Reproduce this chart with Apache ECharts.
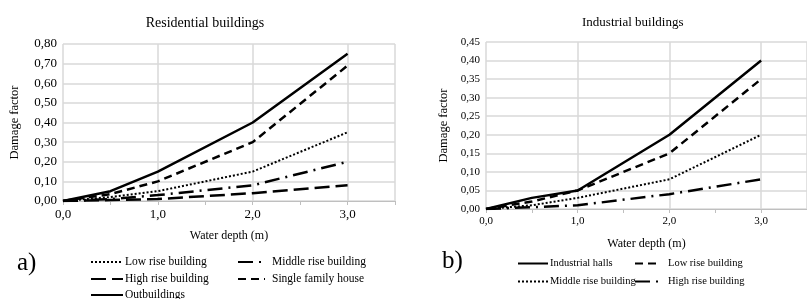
<!DOCTYPE html>
<html>
<head>
<meta charset="utf-8">
<script src="https://cdn.jsdelivr.net/npm/echarts@6/dist/echarts.min.js"></script>
<style>
body{margin:0;background:#fff;}
#res{position:absolute;left:0;top:0;width:410px;height:299px;}
#ind{position:absolute;left:410px;top:0;width:397px;height:299px;}
</style>
</head>
<body>
<div id="res"></div>
<div id="ind"></div>
<script>
var depth = [0, 0.5, 1, 2, 3];
// residential
var resLow = [0, 0.02, 0.05, 0.15, 0.35];
var resMiddle = [0, 0.01, 0.03, 0.08, 0.20];
var resHigh = [0, 0.005, 0.01, 0.04, 0.08];
var resSingle = [0, 0.035, 0.10, 0.30, 0.69];
var resOut = [0, 0.05, 0.15, 0.40, 0.75];
// industrial
var indHalls = [0, 0.03, 0.05, 0.20, 0.40];
var indLow = [0, 0.02, 0.05, 0.15, 0.35];
var indMiddle = [0, 0.01, 0.03, 0.08, 0.20];
var indHigh = [0, 0.005, 0.01, 0.04, 0.08];

var FONT = '"Liberation Serif", "DejaVu Serif", serif';
var styles = {
    solid: {type:'solid', width:2.5},
    dashed: {type:[8,5], width:2.5},
    dotted: {type:[2,2], width:2},
    longdash: {type:[15,6], width:2.5},
    dashdot: {type:[15,6,2,6], width:2.5}
};

function pairs(ys){
    var out=[];
    for(var i=0;i<depth.length;i++){ out.push([depth[i], ys[i]]); }
    return out;
}
function mkSeries(name, ys, st){
    return {name:name, type:'line', data:pairs(ys), symbol:'none', silent:true,
        lineStyle:{color:'#000', width:st.width, type:st.type}, itemStyle:{color:'#000'}};
}
function mkLegend(name, left, top, w, size, gap){
    return {data:[name], left:left, top:top, itemWidth:w, itemHeight:10, itemGap:0,
        padding:0, itemStyle:{opacity:0}, selectedMode:false,
        textStyle:{fontFamily:FONT, fontSize:size, color:'#000', padding:[0,0,0,gap]}};
}
function comma(d){ return function(v){ return v.toFixed(d).replace('.', ','); }; }

function baseOption(title, tsize, ymax, yint, grid, yGap, lsize){
    return {
        animation:false,
        title:{text:title, left:'center', top:11, textStyle:{fontFamily:FONT, fontSize:tsize, fontWeight:'normal', color:'#000'}},
        grid:grid,
        xAxis:{type:'value', min:0, max:3.5, interval:1,
            name:'Water depth (m)', nameLocation:'middle', nameGap:29,
            nameTextStyle:{fontFamily:FONT, fontSize:12, color:'#000'},
            axisLine:{show:true, lineStyle:{color:'#bfbfbf'}},
            axisTick:{show:true, length:4, lineStyle:{color:'#bfbfbf'}},
            minorTick:{show:true, splitNumber:2, length:4, lineStyle:{color:'#bfbfbf'}},
            axisLabel:{formatter:comma(1), showMaxLabel:false, fontFamily:FONT, fontSize:lsize, color:'#000', margin:7},
            splitLine:{show:true, lineStyle:{color:'#d9d9d9', width:1.5}}},
        yAxis:{type:'value', min:0, max:ymax, interval:yint,
            name:'Damage factor', nameLocation:'middle', nameRotate:90, nameGap:yGap,
            nameTextStyle:{fontFamily:FONT, fontSize:12.5, color:'#000'},
            axisLine:{show:false}, axisTick:{show:false},
            axisLabel:{formatter:comma(2), fontFamily:FONT, fontSize:lsize, color:'#000', margin:6},
            splitLine:{show:true, lineStyle:{color:'#d9d9d9', width:1.5}}}
    };
}

var resChart = echarts.init(document.getElementById('res'));
var resOpt = baseOption('Residential buildings', 14, 0.8, 0.1, {left:60, right:15, top:44, bottom:98}, 42, 13);
resOpt.series = [
    mkSeries('Low rise building', resLow, styles.dotted),
    mkSeries('Middle rise building', resMiddle, styles.dashdot),
    mkSeries('High rise building', resHigh, styles.longdash),
    mkSeries('Single family house', resSingle, styles.dashed),
    mkSeries('Outbuildings', resOut, styles.solid)
];
resOpt.legend = [
    mkLegend('Low rise building', 90, 256, 32, 11.5, -3),
    mkLegend('Middle rise building', 237, 256, 27, 11.5, 2),
    mkLegend('High rise building', 90, 273, 32, 11.5, -3),
    mkLegend('Single family house', 237, 273, 27, 11.5, 2),
    mkLegend('Outbuildings', 90, 289, 32, 11.5, -3)
];
resOpt.graphic = [{type:'text', left:17, top:251, style:{text:'a)', font:'25px ' + FONT, fill:'#000'}}];
resChart.setOption(resOpt);

var indChart = echarts.init(document.getElementById('ind'));
var indOpt = baseOption('Industrial buildings', 13, 0.45, 0.05, {left:76, width:329, top:42, bottom:90}, 34, 11);
indOpt.title.left = 167;
indOpt.title.top = 11;
indOpt.title.textAlign = 'left';
indOpt.series = [
    mkSeries('Industrial halls', indHalls, styles.solid),
    mkSeries('Low rise building', indLow, styles.dashed),
    mkSeries('Middle rise building', indMiddle, styles.dotted),
    mkSeries('High rise building', indHigh, styles.dashdot)
];
indOpt.legend = [
    mkLegend('Industrial halls', 107, 258, 30, 10.5, -3),
    mkLegend('Low rise building', 224, 258, 25, 10.5, 3),
    mkLegend('Middle rise building', 107, 276, 30, 10.5, -3),
    mkLegend('High rise building', 224, 276, 25, 10.5, 3)
];
indOpt.graphic = [{type:'text', left:32, top:249, style:{text:'b)', font:'25px ' + FONT, fill:'#000'}}];
indChart.setOption(indOpt);
</script>
</body>
</html>
